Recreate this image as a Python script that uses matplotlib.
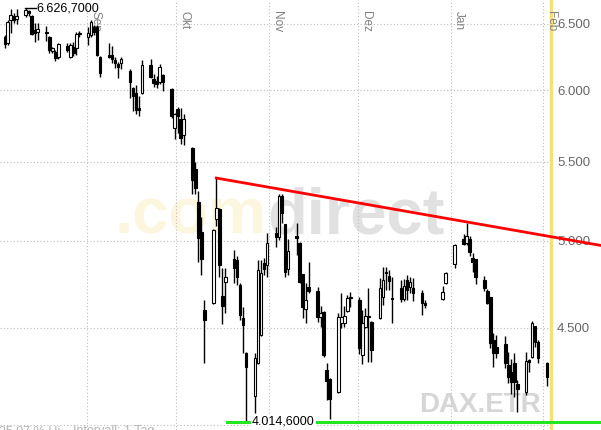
import numpy as np
import pandas as pd
import matplotlib
matplotlib.use('Agg')
import matplotlib.pyplot as plt
import matplotlib.dates as mdates
import matplotlib.transforms as mtrans
from matplotlib.ticker import FixedLocator, FixedFormatter, NullLocator

plt.rcParams['font.family'] = ['Liberation Sans', 'DejaVu Sans']

# DAX daily candles (Xetra), Aug 2008 - Feb 2009
dates = [
    '2008-08-04', '2008-08-05', '2008-08-06', '2008-08-07', '2008-08-08',
    '2008-08-11', '2008-08-12', '2008-08-13', '2008-08-14', '2008-08-15',
    '2008-08-18', '2008-08-19', '2008-08-20', '2008-08-21', '2008-08-22',
    '2008-08-25', '2008-08-26', '2008-08-27', '2008-08-28', '2008-08-29',
    '2008-09-01', '2008-09-02', '2008-09-03', '2008-09-04', '2008-09-05',
    '2008-09-08', '2008-09-09', '2008-09-10', '2008-09-11', '2008-09-12',
    '2008-09-15', '2008-09-16', '2008-09-17', '2008-09-18', '2008-09-19',
    '2008-09-22', '2008-09-23', '2008-09-24', '2008-09-25', '2008-09-26',
    '2008-09-29', '2008-09-30',
    '2008-10-01', '2008-10-02', '2008-10-03',
    '2008-10-06', '2008-10-07', '2008-10-08', '2008-10-09', '2008-10-10',
    '2008-10-13', '2008-10-14', '2008-10-15', '2008-10-16', '2008-10-17',
    '2008-10-20', '2008-10-21', '2008-10-22', '2008-10-23', '2008-10-24',
    '2008-10-27', '2008-10-28', '2008-10-29', '2008-10-30', '2008-10-31',
    '2008-11-03', '2008-11-04', '2008-11-05', '2008-11-06', '2008-11-07',
    '2008-11-10', '2008-11-11', '2008-11-12', '2008-11-13', '2008-11-14',
    '2008-11-17', '2008-11-18', '2008-11-19', '2008-11-20', '2008-11-21',
    '2008-11-24', '2008-11-25', '2008-11-26', '2008-11-27', '2008-11-28',
    '2008-12-01', '2008-12-02', '2008-12-03', '2008-12-04', '2008-12-05',
    '2008-12-08', '2008-12-09', '2008-12-10', '2008-12-11', '2008-12-12',
    '2008-12-15', '2008-12-16', '2008-12-17', '2008-12-18', '2008-12-19',
    '2008-12-22', '2008-12-23', '2008-12-29', '2008-12-30',
    '2009-01-02',
    '2009-01-05', '2009-01-06', '2009-01-07', '2009-01-08', '2009-01-09',
    '2009-01-12', '2009-01-13', '2009-01-14', '2009-01-15', '2009-01-16',
    '2009-01-19', '2009-01-20', '2009-01-21', '2009-01-22', '2009-01-23',
    '2009-01-26', '2009-01-27', '2009-01-28', '2009-01-29', '2009-01-30',
    '2009-02-02',
]
opens = [
    6399, 6352, 6532, 6563, 6540, 6571, 6603, 6563, 6453, 6437,
    6437, 6398, 6291, 6284, 6245, 6329, 6245, 6322, 6314, 6422,
    6398, 6414, 6477, 6477, 6245, 6260, 6260, 6223, 6193, 6200,
    6140, 6015, 5979, 5871, 5979, 6185, 6081, 6067, 6059, 6111,
    6008, 5731,
    5864, 5794, 5683, 5594, 5454, 5240, 5053, 4598, 4637, 5133,
    5196, 4676, 4756, 4890, 4885, 4739, 4553, 4365, 4143, 4312,
    4460, 4867, 4855,
    5047, 5022, 5278, 5102, 4832, 5028, 4986, 4802, 4603, 4727,
    4704, 4559, 4586, 4276, 4229, 4163, 4526, 4526, 4592, 4665,
    4654, 4354, 4504, 4564, 4531, 4553, 4670, 4814, 4791, 4665,
    4721, 4659, 4768, 4727, 4721, 4693, 4637, 4659, 4750,
    4861, 5010, 4986, 5010, 4897, 4890, 4768, 4704, 4670, 4434,
    4396, 4412, 4301, 4265, 4312, 4204, 4163, 4328, 4343, 4509,
    4423, 4312,
]
highs = [
    6414, 6532, 6619, 6587, 6619, 6626.7, 6611, 6571, 6508, 6508,
    6484, 6405, 6322, 6299, 6352, 6352, 6352, 6360, 6437, 6445,
    6477, 6532, 6492, 6492, 6250, 6352, 6329, 6245, 6208, 6245,
    6155, 6023, 6037, 5957, 6223, 6230, 6118, 6103, 6193, 6118,
    6015, 5836,
    5879, 5871, 5829, 5600, 5500, 5310, 5146, 4654, 5070, 5394,
    5200, 4838, 4838, 4944, 4908, 4750, 4614, 4370, 4365, 4885,
    4885, 4897, 5047,
    5084, 5291, 5291, 5105, 5010, 5108, 4990, 4805, 4750, 4873,
    4727, 4620, 4590, 4312, 4232, 4581, 4693, 4620, 4682, 4699,
    4671, 4598, 4609, 4721, 4535, 4779, 4843, 4843, 4826, 4785,
    4768, 4773, 4797, 4785, 4779, 4710, 4654, 4733, 4812,
    4978, 5041, 5110, 5028, 4926, 4893, 4791, 4716, 4673, 4471,
    4460, 4455, 4370, 4333, 4365, 4224, 4370, 4333, 4537, 4512,
    4434, 4315,
]
lows = [
    6314, 6337, 6429, 6508, 6500, 6555, 6563, 6414, 6360, 6375,
    6368, 6276, 6276, 6215, 6230, 6284, 6238, 6253, 6261, 6398,
    6337, 6398, 6414, 6253, 6096, 6238, 6200, 6163, 6089, 6155,
    5943, 5850, 5829, 5815, 5972, 6090, 6023, 6015, 6045, 5994,
    5800, 5655,
    5696, 5621, 5614, 5291, 5291, 4873, 4796, 4312, 4630, 5090,
    4786, 4521, 4581, 4750, 4739, 4542, 4365, 4014.6, 4059, 4305,
    4455, 4796, 4786,
    4962, 5004, 5108, 4786, 4796, 4914, 4750, 4553, 4526, 4693,
    4531, 4504, 4343, 4123, 4029, 4158, 4498, 4504, 4586, 4614,
    4359, 4307, 4498, 4317, 4317, 4550, 4625, 4710, 4710, 4526,
    4642, 4648, 4654, 4693, 4648, 4570, 4609, 4654, 4745,
    4838, 4974, 4974, 4908, 4814, 4745, 4704, 4632, 4391, 4291,
    4338, 4286, 4209, 4153, 4138, 4064, 4148, 4265, 4340, 4396,
    4312, 4194,
]
closes = [
    6344, 6516, 6571, 6532, 6563, 6611, 6587, 6422, 6429, 6461,
    6429, 6299, 6314, 6238, 6344, 6299, 6337, 6276, 6422, 6429,
    6429, 6516, 6437, 6260, 6126, 6245, 6230, 6200, 6170, 6230,
    6059, 5957, 5857, 5857, 6185, 6096, 6052, 6045, 6170, 6059,
    5815, 5829,
    5815, 5662, 5794, 5381, 5329, 5017, 4890, 4542, 5065, 5202,
    4856, 4620, 4786, 4838, 4786, 4570, 4515, 4291, 4338, 4826,
    4808, 4832, 4986,
    5022, 5278, 5170, 4814, 4938, 5017, 4756, 4614, 4654, 4704,
    4559, 4581, 4354, 4219, 4128, 4559, 4559, 4564, 4665, 4670,
    4391, 4526, 4564, 4559, 4380, 4721, 4768, 4808, 4762, 4659,
    4659, 4733, 4710, 4756, 4693, 4637, 4626, 4699, 4808,
    4974, 4980, 5028, 4932, 4873, 4786, 4721, 4637, 4418, 4365,
    4365, 4312, 4239, 4214, 4214, 4178, 4322, 4317, 4526, 4423,
    4338, 4239,
]

month_starts = ['2008-09-01', '2008-10-01', '2008-11-01', '2008-12-01', '2009-01-01', '2009-02-01']
month_labels = ['Sep', 'Okt', 'Nov', 'Dez', 'Jan', 'Feb']
price_ticks = [4000, 4500, 5000, 5500, 6000, 6500]
price_labels = ['', '4.500', '5.000', '5.500', '6.000', '6.500']

# resistance line: Oct 14 high through the Jan 6 high
trend_dates = ['2008-10-14', '2009-01-06']
trend_vals = [5394, 5115]
# support at the October low
support_start = '2008-10-18'
low_val = 4014.6
high_val = 6626.7
high_date = '2008-08-11'
low_date = '2008-10-24'

x = mdates.date2num(pd.to_datetime(dates)) + 0.4
o = np.array(opens, float)
h = np.array(highs, float)
l = np.array(lows, float)
c = np.array(closes, float)

fig = plt.figure(figsize=(6.01, 4.30), dpi=100)
ax_w = 553 / 601
ax = fig.add_axes([0, 0, ax_w, 1])
ax.set_yscale('log')

sep1 = mdates.date2num(pd.Timestamp('2008-09-01'))
xmin, xmax = sep1 - 29.2, sep1 + 156.4
ax.set_xlim(xmin, xmax)
ax.set_ylim(3975.8, 6691.6)

for s in ax.spines.values():
    s.set_visible(False)

# grid
ax.yaxis.set_major_locator(FixedLocator(price_ticks))
ax.yaxis.set_major_formatter(FixedFormatter(price_labels))
ax.yaxis.set_minor_locator(NullLocator())
month_x = mdates.date2num(pd.to_datetime(month_starts))
ax.xaxis.set_major_locator(FixedLocator(month_x))
ax.xaxis.set_minor_locator(NullLocator())
ax.set_xticklabels([])
ax.grid(True, which='major', color='#bdbdbd', linestyle=(0, (1, 2)), linewidth=0.8)
ax.set_axisbelow(True)
ax.yaxis.tick_right()
ax.tick_params(axis='y', length=0, pad=3, labelsize=9.5, labelcolor='#666666')
ax.tick_params(axis='x', length=0)

# month labels, rotated, at the top of each grid line
mtr = mtrans.offset_copy(ax.get_xaxis_transform(), fig=fig, x=2, y=-11, units='dots')
for mx, lab in zip(month_x, month_labels):
    ax.text(mx, 1.0, lab, transform=mtr, rotation=270, ha='left', va='top',
            fontsize=8.5, color='#808080', zorder=2.5)

# watermarks
t1 = ax.text(115 / 601, (430 - 246) / 430, '.com', transform=fig.transFigure,
             fontsize=47, fontweight='bold', color='#fdf6de', ha='left', va='bottom', zorder=0.5)
ax.annotate('direct', xy=(1, 0), xycoords=t1, fontsize=47, fontweight='bold',
            color='#e1e1e1', ha='left', va='bottom', zorder=0.5)
ax.text(419 / 601, (430 - 412) / 430, 'DAX.ETR', transform=fig.transFigure,
        fontsize=20, fontweight='bold', color='#d6d6d6', ha='left', va='baseline', zorder=0.5)

# current-day marker
ax.axvline(xmax - 0.7, color='#f7df78', lw=2.5, zorder=2)

# candles
up = c >= o
ax.vlines(x, l, h, color='black', lw=1, zorder=3)
body_lo = np.minimum(o, c)
body_h = np.maximum(np.abs(c - o), 1.5)
ax.bar(x[up], body_h[up], bottom=body_lo[up], width=0.85, color='white',
       edgecolor='black', linewidth=0.8, zorder=4)
ax.bar(x[~up], body_h[~up], bottom=body_lo[~up], width=0.85, color='black',
       edgecolor='black', linewidth=0.8, zorder=4)

# lines extended to the right edge of the figure
px_per_day = 553 / (xmax - xmin)
fig_right = xmax + (601 - 553) / px_per_day
td = mdates.date2num(pd.to_datetime(trend_dates)) + 0.4
slope = (np.log(trend_vals[1]) - np.log(trend_vals[0])) / (td[1] - td[0])
tx = np.array([td[0], fig_right])
ty = np.exp(np.log(trend_vals[0]) + slope * (tx - td[0]))
ax.plot(tx, ty, color='#ff0000', lw=2, clip_on=False, zorder=6)

sx = mdates.date2num(pd.Timestamp(support_start))
ax.plot([sx, fig_right], [low_val, low_val], color='#22e622', lw=2.2,
        clip_on=False, zorder=6)
lx = mdates.date2num(pd.Timestamp(low_date)) + 0.4
ltr = mtrans.offset_copy(ax.transData, fig=fig, x=6, y=0, units='dots')
ax.text(lx, low_val, '4.014,6000', transform=ltr, fontsize=9, ha='left', va='center',
        color='black', zorder=7, bbox=dict(facecolor='white', edgecolor='none', pad=0.5))

hx = mdates.date2num(pd.Timestamp(high_date)) + 0.4
ax.plot([hx - 0.3, hx + 3.4], [high_val, high_val], color='black', lw=1, zorder=6)
ax.text(hx + 3.7, high_val, '6.626,7000', fontsize=9, ha='left', va='center',
        color='black', zorder=7)

# footer, cut off by the bottom edge as in the original
fig.text(-0.002, 5 / 430, '35,07 % Hi', fontsize=9, color='#b4b4b4', ha='left', va='top')
fig.text(73 / 601, 5 / 430, 'Intervall: 1 Tag', fontsize=9, color='#b4b4b4', ha='left', va='top')

fig.savefig('out.png', dpi=100)
